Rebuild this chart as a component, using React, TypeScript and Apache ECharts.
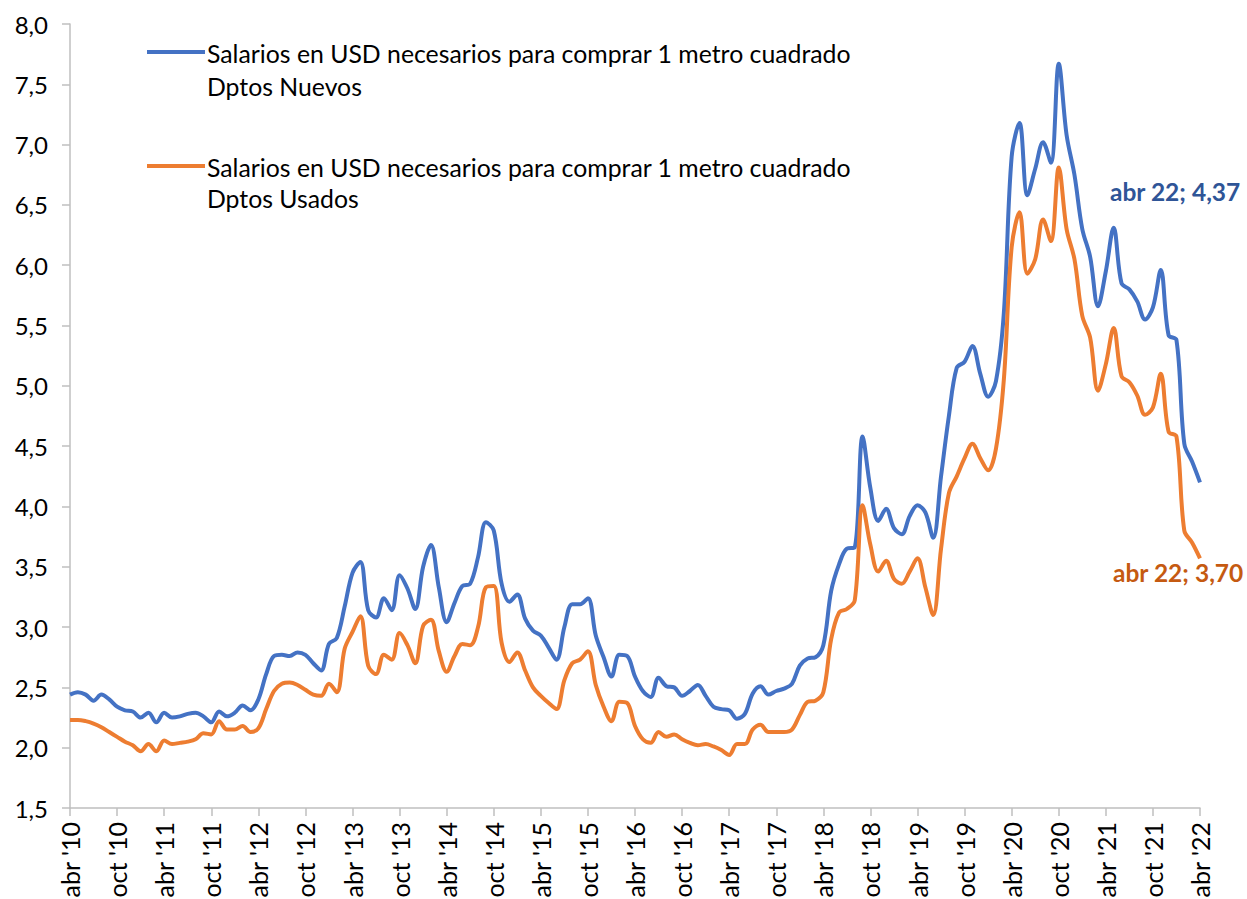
import React, { useEffect, useRef } from "react";
import * as echarts from "echarts";

// Month abbreviations used for the category axis
const monthNames = ["ene", "feb", "mar", "abr", "may", "jun", "jul", "ago", "sep", "oct", "nov", "dic"];
const firstYear = 2010;
const firstMonth = 3; // abr
const monthCount = 145; // abr '10 .. abr '22

const categories: string[] = [];
for (let i = 0; i < monthCount; i++) {
  const m = (firstMonth + i) % 12;
  const y = firstYear + Math.floor((firstMonth + i) / 12);
  categories.push(`${monthNames[m]} '${String(y % 100).padStart(2, "0")}`);
}

// Salarios en USD necesarios para comprar 1 m2 - Dptos Nuevos
const nuevos = [
  2.44, 2.46, 2.44, 2.39, 2.44, 2.40, 2.34, 2.31, 2.30, 2.25,
  2.29, 2.21, 2.29, 2.25, 2.26, 2.28, 2.29, 2.26, 2.21, 2.30,
  2.26, 2.29, 2.35, 2.31, 2.40, 2.61, 2.76, 2.77, 2.76, 2.79,
  2.77, 2.70, 2.64, 2.86, 2.91, 3.17, 3.45, 3.54, 3.14, 3.08,
  3.24, 3.14, 3.43, 3.32, 3.15, 3.50, 3.68, 3.33, 3.04, 3.20,
  3.34, 3.36, 3.58, 3.87, 3.80, 3.36, 3.21, 3.27, 3.07, 2.97,
  2.93, 2.83, 2.73, 3.00, 3.19, 3.19, 3.24, 2.93, 2.75, 2.59,
  2.77, 2.76, 2.59, 2.47, 2.42, 2.58, 2.51, 2.50, 2.43, 2.47,
  2.52, 2.43, 2.34, 2.32, 2.31, 2.24, 2.28, 2.45, 2.51, 2.44,
  2.47, 2.49, 2.53, 2.68, 2.74, 2.75, 2.85, 3.30, 3.52, 3.65,
  3.66, 4.58, 4.15, 3.88, 3.98, 3.82, 3.77, 3.92, 4.01, 3.95,
  3.74, 4.25, 4.75, 5.15, 5.20, 5.33, 5.10, 4.91, 5.04, 5.60,
  6.90, 7.18, 6.58, 6.80, 7.02, 6.85, 7.67, 7.08, 6.75, 6.30,
  6.07, 5.66, 5.95, 6.31, 5.85, 5.80, 5.70, 5.55, 5.65, 5.96,
  5.42, 5.38, 4.52, 4.37, 4.20,
];

// Salarios en USD necesarios para comprar 1 m2 - Dptos Usados
const usados = [
  2.23, 2.23, 2.22, 2.20, 2.17, 2.13, 2.09, 2.05, 2.02, 1.97,
  2.03, 1.97, 2.06, 2.03, 2.04, 2.05, 2.07, 2.12, 2.11, 2.22,
  2.15, 2.15, 2.18, 2.13, 2.16, 2.32, 2.47, 2.53, 2.54, 2.52,
  2.48, 2.44, 2.43, 2.53, 2.46, 2.82, 2.96, 3.09, 2.68, 2.61,
  2.77, 2.73, 2.95, 2.85, 2.70, 3.01, 3.06, 2.80, 2.63, 2.76,
  2.86, 2.85, 3.00, 3.33, 3.34, 2.87, 2.71, 2.79, 2.64, 2.50,
  2.43, 2.37, 2.32, 2.56, 2.70, 2.73, 2.80, 2.52, 2.34, 2.22,
  2.38, 2.37, 2.18, 2.07, 2.04, 2.13, 2.09, 2.11, 2.07, 2.04,
  2.02, 2.03, 2.01, 1.98, 1.94, 2.03, 2.03, 2.15, 2.19, 2.13,
  2.13, 2.13, 2.15, 2.27, 2.38, 2.39, 2.46, 2.90, 3.12, 3.15,
  3.22, 4.01, 3.68, 3.46, 3.55, 3.40, 3.36, 3.46, 3.57, 3.33,
  3.10, 3.65, 4.11, 4.25, 4.40, 4.52, 4.40, 4.30, 4.48, 5.05,
  6.15, 6.44, 5.93, 6.05, 6.38, 6.20, 6.81, 6.30, 6.05, 5.58,
  5.40, 4.96, 5.18, 5.48, 5.08, 5.03, 4.92, 4.76, 4.82, 5.10,
  4.62, 4.58, 3.80, 3.70, 3.57,
];

const seriesNames = [
  "Salarios en USD necesarios para comprar 1 metro cuadrado Dptos Nuevos",
  "Salarios en USD necesarios para comprar 1 metro cuadrado Dptos Usados",
];
const legendLine1 = "Salarios en USD necesarios para comprar 1 metro cuadrado";
const legendLine2 = ["Dptos Nuevos", "Dptos Usados"];
const annotationTexts = ["abr 22; 4,37", "abr 22; 3,70"];

const yMin = 1.5;
const yMax = 8;
const yStep = 0.5;

const BLUE = "#4472C4";
const ORANGE = "#ED7D31";
const FONT = "Lato, 'Open Sans', sans-serif";

export default function App() {
  const ref = useRef<HTMLDivElement>(null);

  useEffect(() => {
    if (!ref.current) return;
    const chart = echarts.init(ref.current, undefined, { renderer: "svg" });
    const axisGray = "#BFBFBF";
    chart.setOption({
      animation: false,
      backgroundColor: "#ffffff",
      grid: { left: 70, right: 47, top: 24, bottom: 91, containLabel: false, outerBoundsMode: "none" },
      xAxis: {
        type: "category",
        data: categories,
        boundaryGap: false,
        axisLine: { show: true, lineStyle: { color: axisGray, width: 1.5 } },
        axisTick: { show: true, interval: 5, length: 8, lineStyle: { color: axisGray, width: 1.5 } },
        axisLabel: {
          interval: 5,
          rotate: 90,
          margin: 14,
          color: "#000",
          fontSize: 25,
          fontFamily: FONT,
        },
        splitLine: { show: false },
      },
      yAxis: {
        type: "value",
        min: yMin,
        max: yMax,
        interval: yStep,
        axisLine: { show: true, lineStyle: { color: axisGray, width: 1.5 } },
        axisTick: { show: true, length: 8, lineStyle: { color: axisGray, width: 1.5 } },
        axisLabel: {
          margin: 22,
          color: "#000",
          fontSize: 24,
          fontFamily: FONT,
          formatter: (v: number) => v.toFixed(1).replace(".", ","),
        },
        splitLine: { show: false },
      },
      series: [
        {
          name: seriesNames[0],
          type: "line",
          data: nuevos,
          smooth: 0.35,
          showSymbol: false,
          lineStyle: { color: BLUE, width: 4 },
          itemStyle: { color: BLUE },
        },
        {
          name: seriesNames[1],
          type: "line",
          data: usados,
          smooth: 0.35,
          showSymbol: false,
          lineStyle: { color: ORANGE, width: 4 },
          itemStyle: { color: ORANGE },
        },
      ],
      graphic: [
        { type: "line", shape: { x1: 147, y1: 52, x2: 205, y2: 52 }, style: { stroke: BLUE, lineWidth: 4 } },
        { type: "text", x: 207, y: 53, style: { text: legendLine1, font: `24.8px ${FONT}`, fill: "#000", verticalAlign: "middle" } },
        { type: "text", x: 207, y: 86, style: { text: legendLine2[0], font: `24.8px ${FONT}`, fill: "#000", verticalAlign: "middle" } },
        { type: "line", shape: { x1: 147, y1: 166, x2: 205, y2: 166 }, style: { stroke: ORANGE, lineWidth: 4 } },
        { type: "text", x: 207, y: 167, style: { text: legendLine1, font: `24.8px ${FONT}`, fill: "#000", verticalAlign: "middle" } },
        { type: "text", x: 207, y: 198, style: { text: legendLine2[1], font: `24.8px ${FONT}`, fill: "#000", verticalAlign: "middle" } },
        { type: "text", x: 1110, y: 191, style: { text: annotationTexts[0], font: `bold 24.5px ${FONT}`, fill: "#2F5597", verticalAlign: "middle" } },
        { type: "text", x: 1113, y: 572, style: { text: annotationTexts[1], font: `bold 24.5px ${FONT}`, fill: "#C55A11", verticalAlign: "middle" } },
      ],
    });
    return () => chart.dispose();
  }, []);

  return (
    <div
      ref={ref}
      style={{ position: "fixed", left: 0, top: 0, width: 1247, height: 899, background: "#fff" }}
    />
  );
}
